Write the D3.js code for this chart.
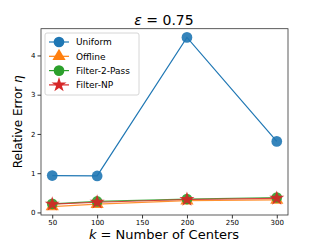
<!DOCTYPE html>
<html><head><meta charset="utf-8">
<script src="https://cdn.jsdelivr.net/npm/d3@7"></script>
<style>body{margin:0;background:#fff}svg{display:block;font-family:"DejaVu Sans",sans-serif}</style>
</head><body><svg id="c" width="320" height="242"></svg>
<script>
const ks = [50, 100, 200, 300];
const uniform = [0.94, 0.93, 4.46, 1.81];
const offline = [0.15, 0.21, 0.30, 0.32];
const filter2 = [0.22, 0.28, 0.34, 0.38];
const filterNP = [0.21, 0.26, 0.33, 0.36];
const xTicks = [50, 100, 150, 200, 250, 300];
const yTicks = [0, 1, 2, 3, 4];
const series = [
  {name: "Uniform", values: uniform, color: "#1f77b4", marker: "circle"},
  {name: "Offline", values: offline, color: "#ff7f0e", marker: "triangle"},
  {name: "Filter-2-Pass", values: filter2, color: "#2ca02c", marker: "circle"},
  {name: "Filter-NP", values: filterNP, color: "#d62728", marker: "star"}
];
const svg = d3.select("#c");
const L = 41, R = 288, T = 28.7, B = 215;
const x = d3.scaleLinear().domain([37.5, 312.5]).range([L, R]);
const y = d3.scaleLinear().domain([-0.0655, 4.6815]).range([B, T]);

function sym(m, size) {
  const t = m === "circle" ? d3.symbolCircle : m === "triangle" ? d3.symbolTriangle : d3.symbolStar;
  return d3.symbol().type(t).size(size)();
}
const sizes = {circle: 90, triangle: 75, star: 70};

const xa = svg.append("g").attr("transform", `translate(0,${B})`)
  .call(d3.axisBottom(x).tickValues(xTicks).tickFormat(d3.format("d")).tickSize(3.5).tickPadding(2));
const ya = svg.append("g").attr("transform", `translate(${L},0)`)
  .call(d3.axisLeft(y).tickValues(yTicks).tickFormat(d3.format("d")).tickSize(3.5).tickPadding(2));
[xa, ya].forEach(a => {
  a.select(".domain").remove();
  a.selectAll("text").attr("font-size", 7).attr("fill", "#000").attr("font-family", "DejaVu Sans");
  a.selectAll("line").attr("stroke", "#000").attr("stroke-width", 0.8);
});

const line = d3.line().x((d, i) => x(ks[i])).y(d => y(d));
series.forEach(s => {
  svg.append("path").attr("d", line(s.values)).attr("fill", "none")
    .attr("stroke", s.color).attr("stroke-width", 1.2).attr("opacity", s.name === "Uniform" ? 1 : 0.85);
  svg.selectAll(null).data(s.values).enter().append("path")
    .attr("d", sym(s.marker, sizes[s.marker]))
    .attr("transform", (d, i) => `translate(${x(ks[i])},${y(d)})`)
    .attr("fill", s.color).attr("opacity", 0.9);
});

svg.append("rect").attr("x", L).attr("y", T).attr("width", R - L).attr("height", B - T)
  .attr("fill", "none").attr("stroke", "#333").attr("stroke-width", 0.8);

// legend
const lg = svg.append("g");
lg.append("rect").attr("x", 45).attr("y", 33).attr("width", 94).attr("height", 62).attr("rx", 2)
  .attr("fill", "#fff").attr("fill-opacity", 0.8).attr("stroke", "#ccc").attr("stroke-width", 0.8);
series.forEach((s, i) => {
  const yy = 42 + i * 14.3;
  lg.append("line").attr("x1", 49).attr("x2", 69).attr("y1", yy).attr("y2", yy)
    .attr("stroke", s.color).attr("stroke-width", 1.2);
  lg.append("path").attr("d", sym(s.marker, sizes[s.marker])).attr("transform", `translate(59,${yy})`)
    .attr("fill", s.color);
  lg.append("text").attr("x", 76).attr("y", yy + 3.3).attr("font-size", 9).text(s.name);
});

svg.append("text").attr("x", 164).attr("y", 25).attr("text-anchor", "middle").attr("font-size", 14)
  .html('<tspan font-style="italic">ε</tspan> = 0.75');
svg.append("text").attr("x", 164).attr("y", 239).attr("text-anchor", "middle").attr("font-size", 13)
  .html('<tspan font-style="italic">k</tspan> = Number of Centers');
svg.append("text").attr("transform", `translate(22,${(T + B) / 2}) rotate(-90)`).attr("text-anchor", "middle")
  .attr("font-size", 12).html('Relative Error <tspan font-style="italic">η</tspan>');
</script></body></html>
